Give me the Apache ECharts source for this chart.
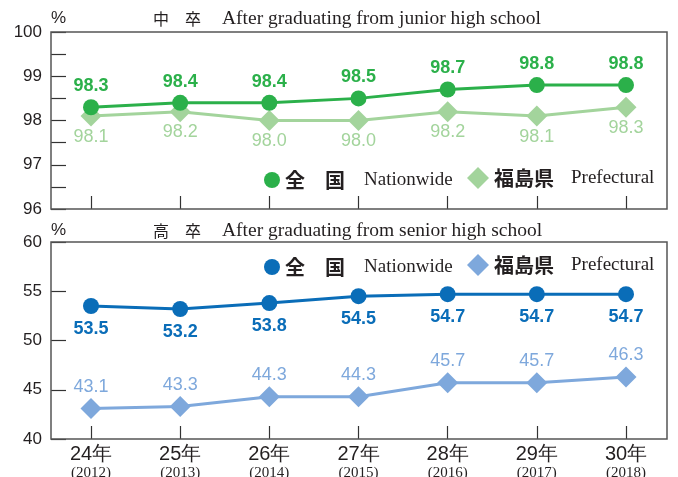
<!DOCTYPE html>
<html>
<head>
<meta charset="utf-8">
<script src="https://cdn.jsdelivr.net/npm/echarts@6/dist/echarts.min.js"></script>
<style>
  html, body { margin: 0; padding: 0; background: #fff; }
  #main { width: 678px; height: 477px; }
</style>
</head>
<body>
<div id="main"></div>
<script>
const years = ['24年', '25年', '26年', '27年', '28年', '29年', '30年'];
const yearsAD = ['2012', '2013', '2014', '2015', '2016', '2017', '2018'];
const juniorNation = [98.3, 98.4, 98.4, 98.5, 98.7, 98.8, 98.8];
const juniorPref = [98.1, 98.2, 98.0, 98.0, 98.2, 98.1, 98.3];
const seniorNation = [53.5, 53.2, 53.8, 54.5, 54.7, 54.7, 54.7];
const seniorPref = [43.1, 43.3, 44.3, 44.3, 45.7, 45.7, 46.3];

const SANS = '"Liberation Sans", Arial, sans-serif';
const SERIF = '"Liberation Serif", "DejaVu Serif", serif';
const CJK = '"Noto Sans CJK JP", sans-serif';
const INK = '#231f20';
const FRAME = '#555';

const GREEN = '#2bb04a', LGREEN = '#a3d49c';
const BLUE = '#0a6db8', LBLUE = '#7ea8dc';

const chart = echarts.init(document.getElementById('main'));

function fmt(p) { return p.value.toFixed(1); }

function titleText(head, eng) {
  return '{c|' + head + '}{e|' + eng + '}';
}
const titleRich = {
  c: { fontFamily: CJK, fontSize: 16, fontWeight: 'normal', color: INK, lineHeight: 22, padding: [0, 21, 0, 0] },
  e: { fontFamily: SERIF, fontSize: 19.5, fontWeight: 'normal', color: INK, lineHeight: 22 }
};

function legendItem(name, icon, left, top, size, head, eng, gap) {
  return {
    data: [{ name: name, icon: icon }], left: left, top: top, padding: 0,
    itemWidth: size, itemHeight: size,
    formatter: () => '{a|' + head + '}{b|' + eng + '}',
    textStyle: {
      rich: {
        a: { fontFamily: CJK, fontSize: 20, fontWeight: 'bold', color: INK, padding: [0, gap, 0, 0] },
        b: { fontFamily: SERIF, fontSize: 19, color: INK }
      }
    }
  };
}

function yAxis(idx, min, max, interval) {
  return {
    gridIndex: idx, type: 'value', min: min, max: max, interval: interval,
    offset: 40,
    axisLine: { show: false },
    axisTick: { show: true, inside: true, length: 15, lineStyle: { color: '#333', width: 1.2 } },
    splitLine: { show: false },
    axisLabel: {
      margin: 9, fontFamily: SANS, fontSize: 17, color: INK,
      formatter: v => (Number.isInteger(v) ? String(v) : '')
    }
  };
}

function xAxis(idx, showLabel) {
  return {
    gridIndex: idx, type: 'category', data: years, boundaryGap: false,
    axisLine: { show: false },
    axisTick: { show: true, inside: true, length: 13, alignWithLabel: true, lineStyle: { color: '#333', width: 1.2 } },
    axisLabel: {
      show: showLabel, margin: 4, interval: 0,
      formatter: (v, i) => '{a|' + v + '}\n{b|(' + yearsAD[i] + ')}',
      rich: {
        a: { fontFamily: SANS, fontSize: 20, color: INK, lineHeight: 22 },
        b: { fontFamily: SERIF, fontSize: 15, color: INK, lineHeight: 17 }
      }
    }
  };
}

function lineSeries(name, idx, data, color, symbol, size, pos, dist, bold) {
  return {
    name: name, type: 'line', xAxisIndex: idx, yAxisIndex: idx, data: data,
    symbol: symbol, symbolSize: size, showAllSymbol: true,
    lineStyle: { color: color, width: 3 },
    itemStyle: { color: color },
    label: {
      show: true, position: pos, distance: dist, formatter: fmt,
      fontFamily: SANS, fontSize: 18, fontWeight: bold ? 'bold' : 'normal', color: color
    },
    emphasis: { disabled: true },
    z: symbol === 'circle' ? 3 : 2
  };
}

const pctStyle = { fontFamily: SANS, fontSize: 17, fontWeight: 'normal', color: INK };

const options = {
  animation: false,
  backgroundColor: '#fff',
  title: [
    { text: '%', left: 51, top: 10, padding: 0, textStyle: pctStyle },
    { text: titleText('中　卒', 'After graduating from junior high school'), left: 153, top: 8, padding: 0, textStyle: { fontWeight: 'normal', rich: titleRich } },
    { text: '%', left: 51, top: 222, padding: 0, textStyle: pctStyle },
    { text: titleText('高　卒', 'After graduating from senior high school'), left: 153, top: 220, padding: 0, textStyle: { fontWeight: 'normal', rich: titleRich } }
  ],
  legend: [
    legendItem('中卒全国', 'circle', 264, 170, 16, '全　国', 'Nationwide', 19),
    legendItem('中卒福島県', 'diamond', 467, 167, 22, '福島県', 'Prefectural', 17),
    legendItem('高卒全国', 'circle', 264, 257, 16, '全　国', 'Nationwide', 19),
    legendItem('高卒福島県', 'diamond', 467, 254, 22, '福島県', 'Prefectural', 17)
  ],
  grid: [
    { left: 91, right: 52, top: 32, height: 177, outerBoundsMode: 'none' },
    { left: 91, right: 52, top: 242, height: 197, outerBoundsMode: 'none' }
  ],
  xAxis: [xAxis(0, false), xAxis(1, true)],
  yAxis: [yAxis(0, 96, 100, 0.5), yAxis(1, 40, 60, 5)],
  series: [
    lineSeries('中卒全国', 0, juniorNation, GREEN, 'circle', 16, 'top', 4, true),
    lineSeries('中卒福島県', 0, juniorPref, LGREEN, 'diamond', 21, 'bottom', 1, false),
    lineSeries('高卒全国', 1, seniorNation, BLUE, 'circle', 16, 'bottom', 6, true),
    lineSeries('高卒福島県', 1, seniorPref, LBLUE, 'diamond', 21, 'top', 2, false)
  ],
  graphic: [
    { type: 'rect', shape: { x: 51, y: 32, width: 616, height: 177 }, style: { fill: 'none', stroke: FRAME, lineWidth: 1.5 }, z: 100 },
    { type: 'rect', shape: { x: 51, y: 242, width: 616, height: 197 }, style: { fill: 'none', stroke: FRAME, lineWidth: 1.5 }, z: 100 }
  ]
};

chart.setOption(options);
</script>
</body>
</html>
